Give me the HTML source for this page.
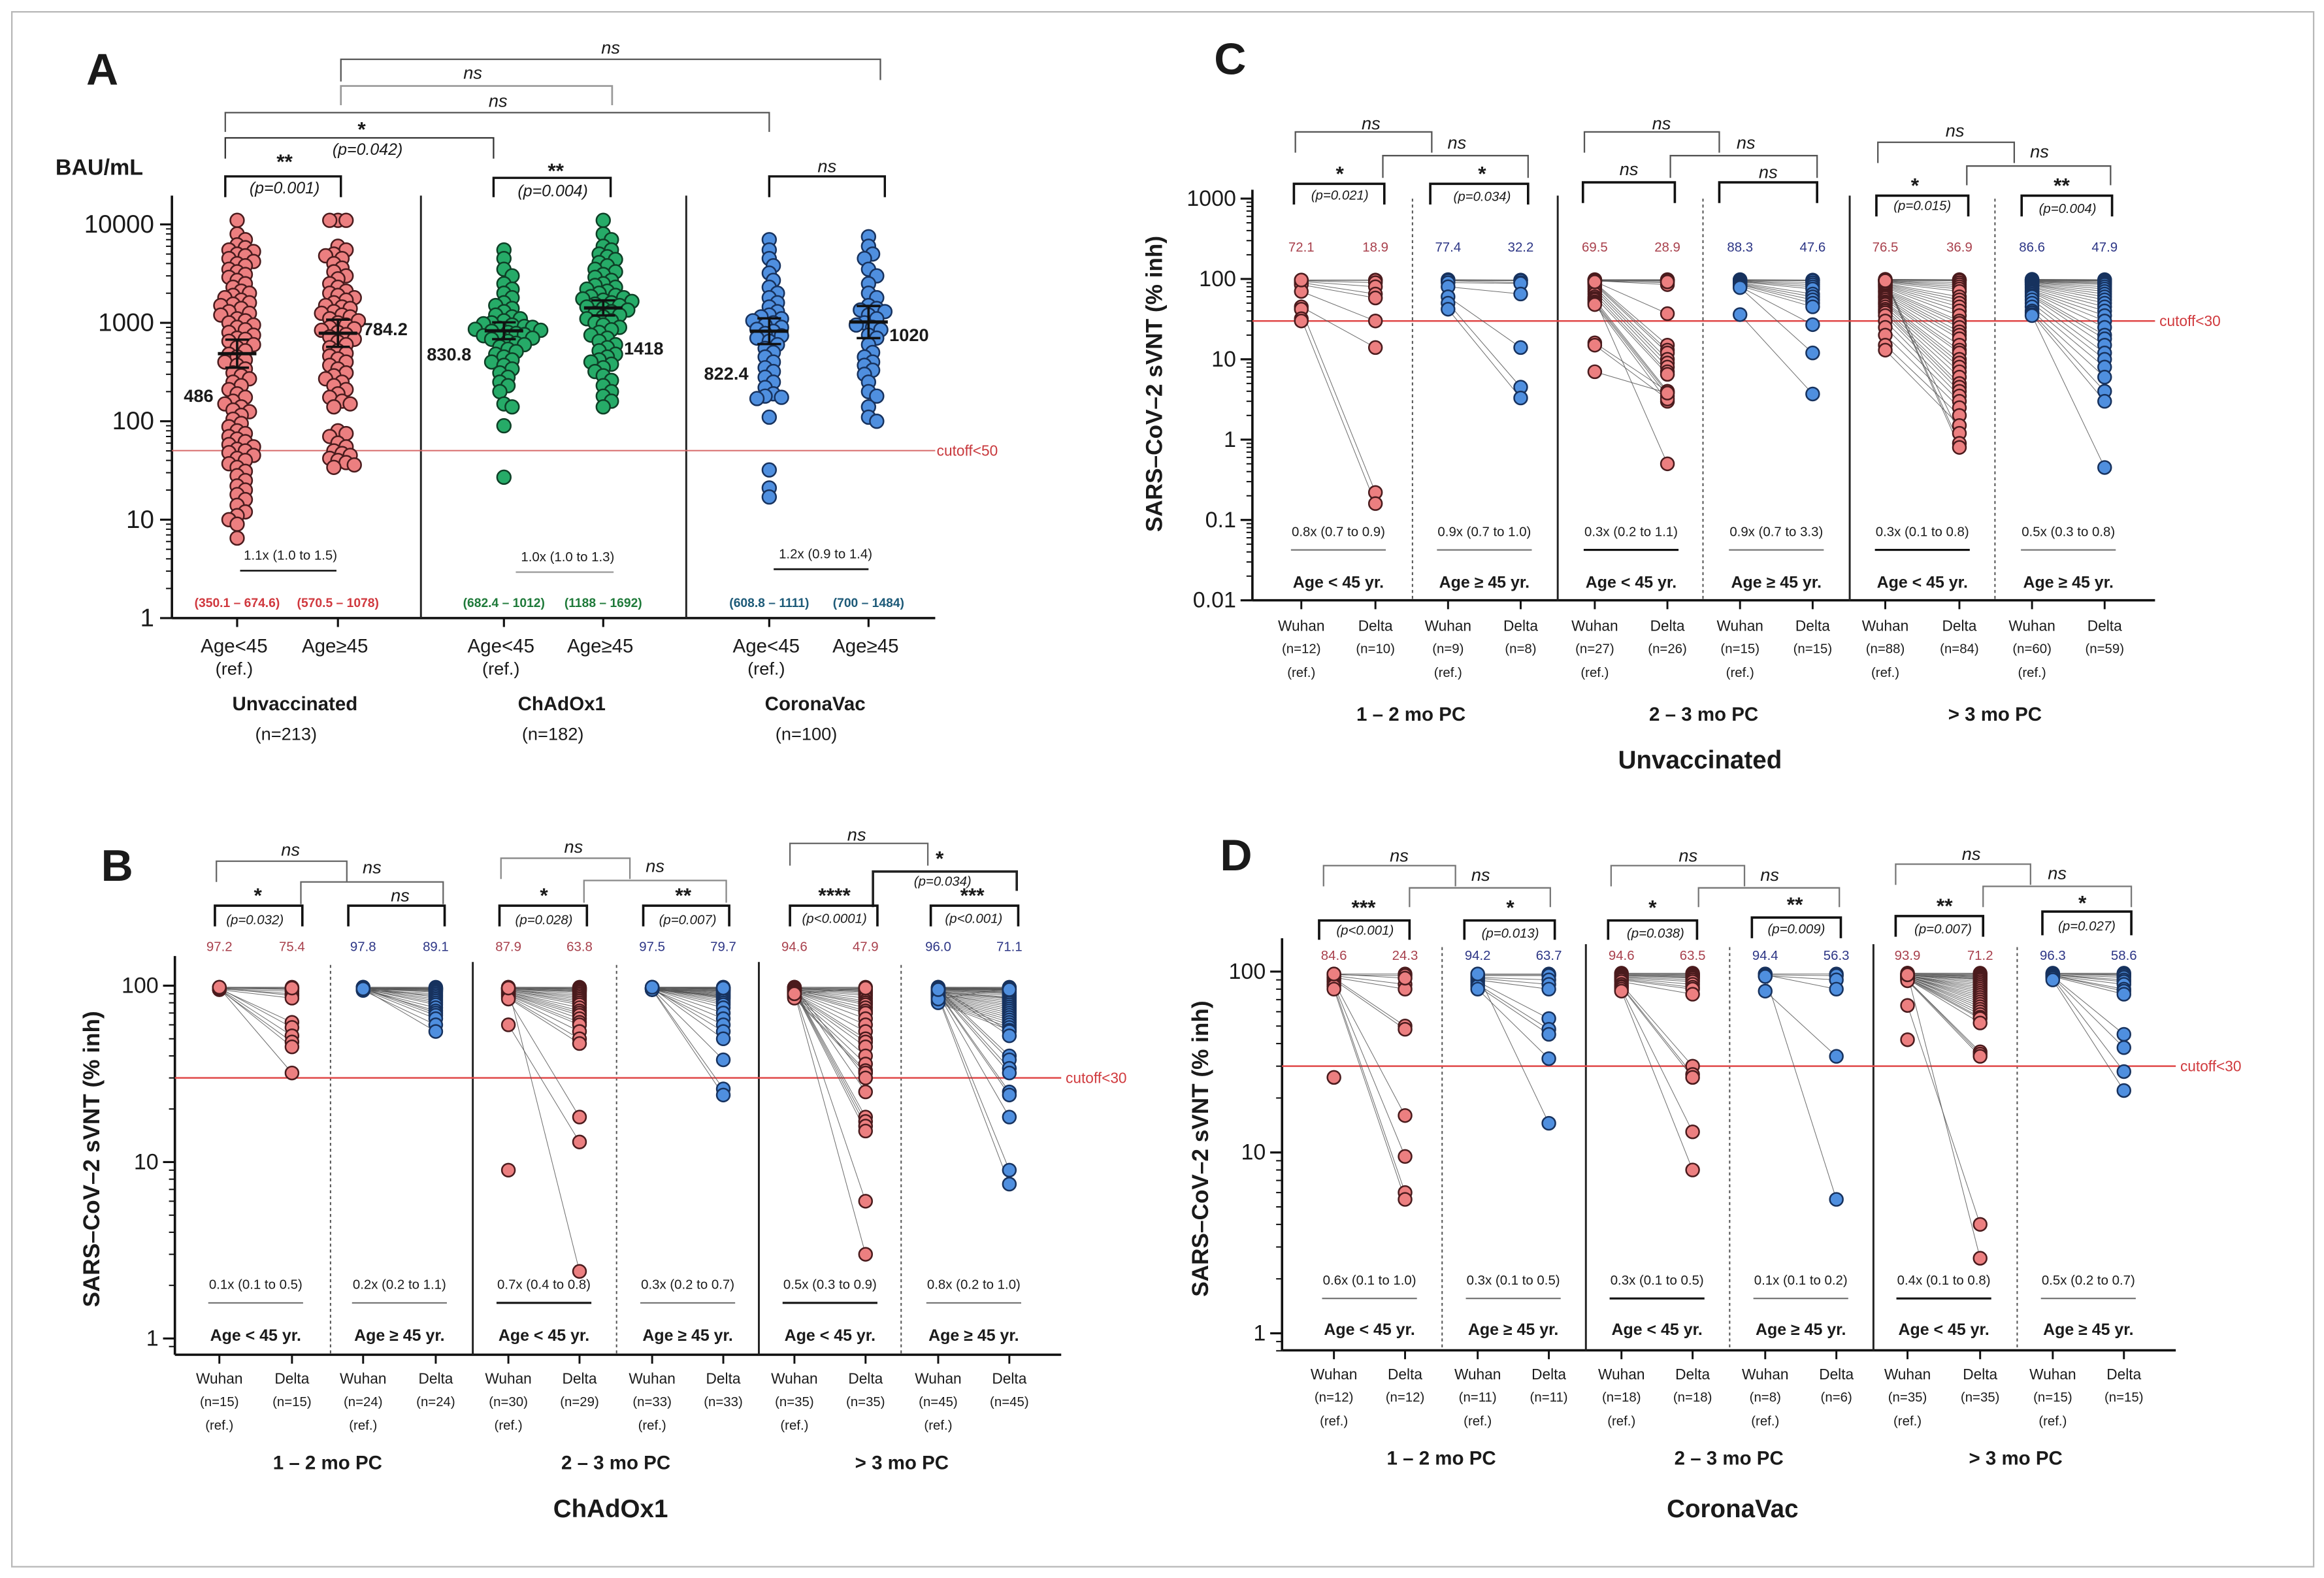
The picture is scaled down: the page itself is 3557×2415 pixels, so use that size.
<!DOCTYPE html>
<html><head><meta charset="utf-8"><style>body{margin:0;background:#fff}svg{display:block}</style></head><body>
<svg id="fig" xmlns="http://www.w3.org/2000/svg" width="3557" height="2415" viewBox="0 0 1568 1064.6" preserveAspectRatio="none"></svg>
<script>
// ===== Panel A data (BAU/mL) =====
const A_categories = ['Age<45','Age≥45','Age<45','Age≥45','Age<45','Age≥45'];
const A_unvax_lt45 = [11000,8000,7000,6200,5800,5500,5300,5000,4800,4500,4200,4000,3800,3500,3300,3100,2900,2700,2500,2300,2100,2000,1900,1800,1700,1600,1550,1500,1400,1300,1250,1200,1100,1050,1000,950,900,850,800,750,700,680,650,600,560,520,480,450,420,400,370,340,310,290,270,250,230,210,190,175,160,150,140,130,125,115,105,95,88,80,75,70,66,62,58,55,52,50,48,45,42,40,37,34,31,28,25,22,20,18,16,14,12,11,10,9,6.5];
const A_unvax_ge45 = [11000,11000,11000,6000,5500,5000,4800,4500,4000,3600,3300,3000,2800,2500,2300,2100,2000,1900,1800,1700,1600,1500,1450,1400,1300,1250,1200,1150,1100,1050,1000,950,900,870,840,800,760,720,680,640,600,560,520,490,460,430,400,370,340,310,290,270,250,230,210,190,175,160,150,140,80,75,70,60,55,50,47,45,42,40,38,36,34];
const A_chad_lt45 = [5500,4500,3500,3000,2500,2200,2000,1800,1600,1500,1400,1300,1200,1150,1100,1050,1000,980,950,920,900,880,860,840,820,800,780,760,740,720,700,680,650,620,600,570,540,510,480,450,420,400,370,340,310,280,250,230,200,150,140,90,27];
const A_chad_ge45 = [11000,8000,7000,6000,5500,5000,4700,4400,4100,3800,3500,3300,3100,2900,2700,2500,2400,2300,2200,2100,2000,1900,1850,1800,1750,1700,1650,1600,1550,1500,1450,1400,1350,1300,1250,1200,1150,1100,1050,1000,950,900,850,800,750,700,650,600,560,520,480,450,420,400,380,350,320,290,260,230,200,180,160,140];
const A_cv_lt45 = [7000,5500,4500,3800,3200,2700,2300,2000,1800,1600,1450,1300,1200,1150,1100,1050,1000,950,900,860,820,780,740,700,650,600,550,500,450,400,350,320,280,250,220,190,180,175,170,110,32,21,17];
const A_cv_ge45 = [7500,6000,5000,4500,3500,3000,2500,2000,1800,1500,1400,1350,1300,1200,1100,1000,950,900,850,750,700,600,500,450,400,370,330,300,250,200,180,140,110,100];
const A_means = [486,784.2,830.8,1418,822.4,1020];
const A_ci_lo = [350.1,570.5,682.4,1188,608.8,700];
const A_ci_hi = [674.6,1078,1012,1692,1111,1484];
const A_ticks = [10000,1000,100,10,1];
const A_tickLabels = ['10000','1000','100','10','1'];

// ===== Panel C data (Unvaccinated, % inh) =====
const C1_w=[97,96,95,93,90,85,70,45,42,32,30,97];
const C1_d=[97,96,90,80,65,58,30,14,0.22,0.16,null,null];
const C2_w=[98,97,96,95,90,80,60,50,42];
const C2_d=[97,96,95,90,88,65,14,4.5,3.3];
const C3_w=[98,97,97,96,95,95,93,90,88,85,80,75,70,65,60,57,55,52,50,48,16,15,7,97,96,94,92];
const C3_d=[98,97,96,95,90,85,37,15,13,12,10,9,8,7,6.5,0.5,4,3.8,3.5,3,4,3.2,3.8,97,96,92,null];
const C4_w=[98,97,96,95,94,93,92,90,88,86,85,82,80,78,36];
const C4_d=[97,96,95,90,85,80,75,65,60,55,50,45,27,12,3.7];
const C5_w=[99,98,97,96,95,94,93,92,90,88,86,84,82,80,78,75,72,70,68,65,62,60,58,55,52,50,48,45,42,40,38,35,30,25,20,15,13,97,96,95];
const C5_d=[98,97,96,95,90,85,80,75,70,60,55,50,45,40,35,30,28,25,22,20,18,15,13,12,10,9,8,7,6,5,4.5,4,3.5,3,2.5,2,1.5,1.2,0.9,0.8];
const C6_w=[99,98,97,96,95,94,93,92,91,90,88,86,85,83,80,78,75,72,70,68,65,62,60,55,50,45,40,38,36,35];
const C6_d=[98,97,96,95,93,90,88,85,80,75,70,65,60,55,50,45,40,35,30,25,20,18,15,12,10,8,6,4,3,0.45];
const C_means=['72.1','18.9','77.4','32.2','69.5','28.9','88.3','47.6','76.5','36.9','86.6','47.9'];
const C_n=['(n=12)','(n=10)','(n=9)','(n=8)','(n=27)','(n=26)','(n=15)','(n=15)','(n=88)','(n=84)','(n=60)','(n=59)'];
const C_fold=['0.8x (0.7 to 0.9)','0.9x (0.7 to 1.0)','0.3x (0.2 to 1.1)','0.9x (0.7 to 3.3)','0.3x (0.1  to 0.8)','0.5x (0.3  to 0.8)'];
const C_ticks=[1000,100,10,1,0.1,0.01];
const C_tickLabels=['1000','100','10','1','0.1','0.01'];

// ===== Panel B data (ChAdOx1) =====
const B1_w=[98,97,97,97,96,96,97,95,96,97,96,95,96,97,98];
const B1_d=[98,97,96,95,93,90,88,85,62,58,52,48,45,32,97];
const B2_w=[98,98,97,97,97,97,96,96,96,96,95,95,98,97,97,96,96,95,95,97,96,95,94,96];
const B2_d=[98,97,97,96,96,95,95,94,93,92,90,88,86,84,82,80,78,75,72,70,68,65,60,55];
const B3_w=[98,98,97,97,97,97,96,96,96,96,95,95,95,94,94,93,92,92,91,90,90,89,88,87,86,85,84,60,9,97];
const B3_d=[98,97,97,96,95,95,94,93,92,90,88,86,84,82,80,78,75,72,70,68,65,62,60,55,50,47,18,13,null,2.4];
const B4_w=[98,98,98,97,97,97,97,97,96,96,96,96,96,96,95,95,95,98,98,97,97,97,96,96,96,95,95,97,97,96,96,95,98];
const B4_d=[98,98,97,97,96,96,95,95,94,94,93,92,91,90,89,88,87,86,85,84,82,80,78,75,70,65,60,55,50,38,26,24,97];
const B5_w=[98,98,97,97,97,96,96,96,95,95,95,94,94,93,93,92,92,91,90,90,89,88,88,87,86,85,98,97,96,95,94,93,92,91,90];
const B5_d=[98,97,96,95,94,93,92,90,88,85,82,80,78,75,72,70,65,60,55,50,48,45,40,36,33,32,30,25,18,17,16,15,6,3,97];
const B6_w=[98,98,97,97,97,96,96,96,95,95,95,94,94,93,93,92,92,91,90,90,89,88,87,86,85,84,83,82,81,80,98,97,96,95,94,93,92,91,90,88,86,84,97,96,95];
const B6_d=[98,97,97,96,96,95,95,94,93,92,91,90,88,86,85,84,82,80,78,76,74,72,70,68,66,64,62,60,58,56,55,52,40,38,34,32,25,24,18,9,7.5,97,96,95,95];
const B_means=['97.2','75.4','97.8','89.1','87.9','63.8','97.5','79.7','94.6','47.9','96.0','71.1'];
const B_n=['(n=15)','(n=15)','(n=24)','(n=24)','(n=30)','(n=29)','(n=33)','(n=33)','(n=35)','(n=35)','(n=45)','(n=45)'];
const B_fold=['0.1x (0.1 to 0.5)','0.2x (0.2 to 1.1)','0.7x (0.4  to 0.8)','0.3x (0.2 to 0.7)','0.5x (0.3 to 0.9)','0.8x (0.2 to 1.0)'];
const BD_ticks=[100,10,1];
const BD_tickLabels=['100','10','1'];

// ===== Panel D data (CoronaVac) =====
const D1_w=[97,96,95,93,92,90,88,85,83,80,26,97];
const D1_d=[97,95,85,80,50,48,16,9.5,6,5.5,null,92];
const D2_w=[97,96,95,93,92,90,88,85,83,80,97];
const D2_d=[97,96,95,90,85,80,55,48,45,33,14.5];
const D3_w=[98,97,97,96,96,95,95,94,93,92,91,90,88,85,83,82,80,78];
const D3_d=[98,97,96,95,94,93,92,90,88,85,82,80,75,30,27,26,13,8];
const D4_w=[97,96,95,97,96,95,94,78];
const D4_d=[97,95,90,null,80,5.5,null,34];
const D5_w=[98,98,97,97,97,97,96,96,96,96,96,95,95,95,95,95,94,94,94,94,93,93,93,92,92,92,91,91,90,90,89,65,42,97,96];
const D5_d=[98,97,96,95,94,93,92,91,90,88,86,84,82,80,78,76,74,72,70,68,66,64,62,60,58,56,55,52,36,35,34,4,null,2.6,null];
const D6_w=[98,97,97,97,96,96,96,95,95,95,94,94,93,92,90];
const D6_d=[98,97,96,95,93,90,88,85,80,78,75,45,38,28,22];
const D_means=['84.6','24.3','94.2','63.7','94.6','63.5','94.4','56.3','93.9','71.2','96.3','58.6'];
const D_n=['(n=12)','(n=12)','(n=11)','(n=11)','(n=18)','(n=18)','(n=8)','(n=6)','(n=35)','(n=35)','(n=15)','(n=15)'];
const D_fold=['0.6x (0.1 to 1.0)','0.3x (0.1 to 0.5)','0.3x (0.1 to 0.5)','0.1x (0.1 to 0.2)','0.4x (0.1 to 0.8)','0.5x (0.2  to 0.7)'];

const ageLabels=['Age < 45 yr.','Age ≥ 45 yr.','Age < 45 yr.','Age ≥ 45 yr.','Age < 45 yr.','Age ≥ 45 yr.'];
const periodLabels=['1 – 2 mo PC','2 – 3 mo PC','> 3 mo PC'];

// ===== helpers =====
const svg=document.getElementById('fig');
const NS='http://www.w3.org/2000/svg';
const FN='"Liberation Sans", Arial, sans-serif';
const FNN='"Liberation Sans Narrow", "Liberation Sans", Arial, sans-serif';
const RED={f:'#ec7f80',s:'#4a1b1d'}, BLUE={f:'#4f8fdf',s:'#17325e'}, GREEN={f:'#26ab68',s:'#0e3f26'};
function mk(tag,parent,attrs){const e=document.createElementNS(NS,tag);for(const k in attrs)e.setAttribute(k,attrs[k]);parent.appendChild(e);return e;}
function grp(parent,name){const g=mk('g',parent,{});


return g;}
function ln(p,x1,y1,x2,y2,stroke,w,name,dash){const e=mk('line',p,{x1:x1,y1:y1,x2:x2,y2:y2,stroke:stroke,'stroke-width':w});if(dash)e.setAttribute('stroke-dasharray',dash);


return e;}
function txt(p,x,y,s,size,o,name){o=o||{};const e=mk('text',p,{x:x,y:y,'font-size':size,'text-anchor':o.a||'middle','dominant-baseline':'central','font-family':o.f||FN,fill:o.c||'#1a1a1a'});if(o.b)e.setAttribute('font-weight','bold');if(o.i)e.setAttribute('font-style','italic');if(o.r)e.setAttribute('transform','rotate('+o.r+' '+x+' '+y+')');e.textContent=s;


return e;}
function bracket(p,x1,x2,y,d1,d2,w,color,name){const e=mk('path',p,{d:'M'+x1+' '+(y+d1)+' V'+y+' H'+x2+' V'+(y+d2),fill:'none',stroke:color,'stroke-width':w});


return e;}
function dot(p,x,y,r,col,name){const e=mk('circle',p,{cx:x,cy:y,r:r,fill:col.f,stroke:col.s,'stroke-width':1.1});


return e;}
function logAxis(p,x,yTop,yBot,yOf,ticks,labels,size,lx,name){
  const g=grp(p,name);
  ln(g,x,yTop,x,yBot,'#111',1.6,'y-axis-line');
  const lo=Math.log10(Math.min(...ticks)),hi=Math.log10(Math.max(...ticks));
  for(let d=Math.floor(lo)-1;d<=Math.ceil(hi);d++){for(let m=1;m<10;m++){const v=m*Math.pow(10,d);const y=yOf(v);if(y<yTop-0.5||y>yBot+0.5)continue;const major=(m===1);
    ln(g,x-(major?8:4),y,x,y,'#111',major?1.4:0.9,major?'y-major-tick':'y-minor-tick');}}
  ticks.forEach((v,i)=>{txt(g,lx,yOf(v),labels[i],size,{a:'end'},'y-tick-label');});
  return g;}

// border
const border=mk('rect',svg,{x:8,y:8,width:1553,height:1049,fill:'none',stroke:'#b8b8b8','stroke-width':1});



// ===== PANEL A =====
(function(){
  const P=grp(svg,'panel-a');
  const y1=417, dec=66.4;
  const yOf=v=>y1-Math.log10(v)*dec;
  const xs=[160,228,340,407,519,586];
  txt(P,69,47,'A',30,{b:true},'panel-label-a');
  txt(P,67,113,'BAU/mL',15,{b:true},'y-axis-title');
  logAxis(P,116,132,417,yOf,A_ticks,A_tickLabels,17,104,'y-axis');
  ln(P,116,417,631,417,'#111',1.6,'x-axis-line');
  xs.forEach(x=>ln(P,x,417,x,423,'#111',1.4,'x-tick'));
  ln(P,284,132,284,417,'#222',1.3,'group-divider');
  ln(P,463,132,463,417,'#222',1.3,'group-divider');
  ln(P,116,304,631,304,'#d66a6a',0.9,'cutoff-line');
  txt(P,632,304,'cutoff<50',10,{a:'start',c:'#c8383c',f:FNN},'cutoff-label');
  const sets=[[A_unvax_lt45,RED],[A_unvax_ge45,RED],[A_chad_lt45,GREEN],[A_chad_ge45,GREEN],[A_cv_lt45,BLUE],[A_cv_ge45,BLUE]];
  sets.forEach((s,i)=>{
    const g=grp(P,'swarm-'+i);
    const r=4.6, placed=[];
    s[0].slice().sort((a,b)=>b-a).forEach(v=>{const y=yOf(v);for(let k=0;k<80;k++){const off=(k%2?1:-1)*Math.ceil(k/2)*r*0.6;const x=xs[i]+off;if(placed.every(q=>(q.x-x)*(q.x-x)+(q.y-y)*(q.y-y)>=(1.15*r)*(1.15*r))){placed.push({x:x,y:y});break;}}});
    placed.forEach(q=>dot(g,q.x,q.y,r,s[1],'data-point'));
    const ym=yOf(A_means[i]),ylo=yOf(A_ci_lo[i]),yhi=yOf(A_ci_hi[i]);
    ln(g,xs[i],yhi,xs[i],ylo,'#111',1.6,'ci-bar');
    ln(g,xs[i]-8,yhi,xs[i]+8,yhi,'#111',1.6,'ci-cap');
    ln(g,xs[i]-8,ylo,xs[i]+8,ylo,'#111',1.6,'ci-cap');
    ln(g,xs[i]-13,ym,xs[i]+13,ym,'#111',2.2,'geometric-mean');
  });
  const mlab=[[130,267,'end'],[245,222,'start'],[304,239,'end'],[421,235,'start'],[491,252,'end'],[600,226,'start']];
  mlab.forEach((m,i)=>txt(P,m[0]+(m[2]==='end'?14:0),m[1],String(A_means[i]),12,{b:true,a:m[2]==='end'?'end':'start'},'mean-label'));
  const ciC=['#d0383e','#d0383e','#1f7a3a','#1f7a3a','#1d5a78','#1d5a78'];
  xs.forEach((x,i)=>txt(P,x,407,'('+A_ci_lo[i]+' – '+A_ci_hi[i]+')',8.5,{c:ciC[i],f:FNN,b:true},'ci-label'));
  const folds=[[196,375,'1.1x (1.0 to 1.5)',162,227,'#222'],[383,376,'1.0x (1.0 to 1.3)',348,414,'#aaa'],[557,374,'1.2x (0.9 to 1.4)',522,586,'#111']];
  folds.forEach(f=>{txt(P,f[0],f[1],f[2],9,{f:FNN},'fold-change-label');ln(P,f[3],f[1]+10,f[4],f[1]+10,f[5],1.2,'fold-change-line');});
  xs.forEach((x,i)=>{txt(P,x-2,436,A_categories[i],13,{},'x-tick-label');if(i%2===0)txt(P,x-2,451,'(ref.)',12,{},'ref-label');});
  [[199,'Unvaccinated','(n=213)'],[379,'ChAdOx1','(n=182)'],[550,'CoronaVac','(n=100)']].forEach(g=>{txt(P,g[0],475,g[1],13,{b:true},'group-name');txt(P,g[0]-6,495,g[2],12,{},'group-n');});
  const bk=[[230,594,40,15,14,'#555',1],[230,413,58,13,13,'#999',1.2],[152,519,76,13,13,'#555',1],[152,333,93,14,14,'#333',1],[152,230,119,14,14,'#111',1.5],[333,412,120,13,13,'#111',1.5],[519,597,119,14,14,'#111',1.5]];
  bk.forEach(b=>bracket(P,b[0],b[1],b[2],b[3],b[4],b[6],b[5],'comparison-bracket'));
  txt(P,412,32,'ns',12,{i:true},'ns-label');txt(P,319,49,'ns',12,{i:true},'ns-label');txt(P,336,68,'ns',12,{i:true},'ns-label');
  txt(P,244,87,'*',14,{b:true},'significance-star');txt(P,248,101,'(p=0.042)',11,{i:true},'p-value');
  txt(P,192,109,'**',14,{b:true},'significance-star');txt(P,192,127,'(p=0.001)',11,{i:true},'p-value');
  txt(P,375,115,'**',14,{b:true},'significance-star');txt(P,373,129,'(p=0.004)',11,{i:true},'p-value');
  txt(P,558,112,'ns',12,{i:true},'ns-label');
})();

// ===== generic paired panel =====
function paired(cfg){
  const P=grp(svg,cfg.name);
  const yOf=v=>cfg.y100-(Math.log10(v)-2)*cfg.dec;
  txt(P,cfg.letter[0],cfg.letter[1],cfg.letter[2],30,{b:true},'panel-label');
  txt(P,cfg.title[0],cfg.title[1],'SARS–CoV–2 sVNT (% inh)',15.5,{b:true,r:-90},'y-axis-title');
  logAxis(P,cfg.ax,cfg.top,cfg.bot,yOf,cfg.ticks,cfg.tickLabels,15,cfg.ax-11,'y-axis');
  ln(P,cfg.ax,cfg.bot,cfg.right,cfg.bot,'#111',1.6,'x-axis-line');
  cfg.solid.forEach(x=>ln(P,x,cfg.top+4,x,cfg.bot,'#222',1.3,'period-divider'));
  cfg.dotted.forEach(x=>ln(P,x,cfg.top+6,x,cfg.bot,'#555',0.9,'age-divider','2,2'));
  const yc=yOf(30);
  ln(P,cfg.ax,yc,cfg.right,yc,'#e04848',1.1,'cutoff-line');
  txt(P,cfg.right+3,yc,'cutoff<30',10,{a:'start',c:'#d03a3e',f:FNN},'cutoff-label');
  const xs=cfg.xs;
  cfg.groups.forEach((gr,i)=>{
    const g=grp(P,'pair-group-'+i);
    const xw=xs[2*i],xd=xs[2*i+1],col=(i%2===0)?RED:BLUE;
    gr[0].forEach((w,j)=>{const d=gr[1][j];if(w!=null&&d!=null){const c=ln(g,xw,yOf(w),xd,yOf(d),'#555',0.45,'pair-connector');c.setAttribute('stroke-opacity','0.85');}});
    gr[0].forEach(w=>{if(w!=null)dot(g,xw,yOf(w),4.4,col,'wuhan-point');});
    gr[1].forEach(d=>{if(d!=null)dot(g,xd,yOf(d),4.4,col,'delta-point');});
    const mc=(i%2===0)?'#a8404c':'#2c3585';
    txt(P,xw,cfg.meanY,cfg.means[2*i],9,{c:mc,f:FNN},'mean-label');
    txt(P,xd,cfg.meanY,cfg.means[2*i+1],9,{c:mc,f:FNN},'mean-label');
    const cx=(xw+xd)/2;
    txt(P,cx,cfg.foldY,cfg.fold[i],9,{f:FNN},'fold-change-label');
    ln(P,cx-32,cfg.foldY+12,cx+32,cfg.foldY+12,(i%2===0&&i>0)?'#111':'#777',(i%2===0&&i>0)?1.4:1,'fold-change-line');
    txt(P,cx,cfg.ageY,ageLabels[i],11,{b:true},'age-label');
  });
  xs.forEach((x,i)=>{
    ln(P,x,cfg.bot,x,cfg.bot+6,'#111',1.3,'x-tick');
    txt(P,x,cfg.lblY,i%2===0?'Wuhan':'Delta',10,{f:FNN},'x-tick-label');
    txt(P,x,cfg.lblY+16,cfg.n[i],9,{f:FNN},'n-label');
    if(i%2===0)txt(P,x,cfg.lblY+32,'(ref.)',9,{f:FNN},'ref-label');
  });
  periodLabels.forEach((s,k)=>txt(P,(xs[4*k]+xs[4*k+3])/2,cfg.perY,s,13,{b:true},'period-label'));
  txt(P,cfg.vacc[0],cfg.vacc[1],cfg.vacc[2],17,{b:true},'vaccine-title');
  cfg.brackets.forEach(b=>bracket(P,b[0],b[1],b[2],b[3],b[4],b[5]||1,b[6]||'#444','comparison-bracket'));
  cfg.notes.forEach(n=>{const isP=n[2].charAt(0)==='(';const isNs=n[2]==='ns';txt(P,n[0],n[1],n[2],isP?9:(isNs?12:14),{i:isP||isNs,b:!isP&&!isNs,f:isP?FNN:FN},isP?'p-value':(isNs?'ns-label':'significance-star'));});
}

// Panel C
paired({name:'panel-c',letter:[830,40,'C'],title:[779,259],y100:188.2,dec:54.2,ax:845,top:128,bot:405,right:1454,
  ticks:C_ticks,tickLabels:C_tickLabels,
  xs:[878,928,977,1026,1076,1125,1174,1223,1272,1322,1371,1420],solid:[1051,1248],dotted:[953,1149,1346],
  groups:[[C1_w,C1_d],[C2_w,C2_d],[C3_w,C3_d],[C4_w,C4_d],[C5_w,C5_d],[C6_w,C6_d]],
  means:C_means,meanY:167,fold:C_fold,foldY:359,ageY:393,lblY:422,n:C_n,perY:482,vacc:[1147,513,'Unvaccinated'],
  brackets:[[874,966,89,14,14,1,'#555'],[933,1031,105,15,15,1,'#555'],[873,934,124,14,14,1.6,'#111'],[965,1031,124,14,14,1.6,'#111'],
    [1069,1160,89,14,14,1,'#555'],[1127,1226,105,15,15,1,'#555'],[1068,1130,123,14,14,1.6,'#111'],[1160,1226,123,14,14,1.6,'#111'],
    [1267,1359,96,14,14,1,'#555'],[1327,1424,112,13,13,1,'#555'],[1266,1328,132,14,14,1.6,'#111'],[1364,1425,132,14,14,1.6,'#111']],
  notes:[[925,83,'ns'],[983,96,'ns'],[904,117,'*'],[904,132,'(p=0.021)'],[1000,117,'*'],[1000,133,'(p=0.034)'],
    [1121,83,'ns'],[1178,96,'ns'],[1099,114,'ns'],[1193,116,'ns'],
    [1319,88,'ns'],[1376,102,'ns'],[1292,125,'*'],[1297,139,'(p=0.015)'],[1391,125,'**'],[1395,141,'(p=0.004)']]});

// Panel B
paired({name:'panel-b',letter:[79,584,'B'],title:[62,782],y100:665,dec:119,ax:118,top:645,bot:914,right:716,
  ticks:BD_ticks,tickLabels:BD_tickLabels,
  xs:[148,197,245,294,343,391,440,488,536,584,633,681],solid:[319,512],dotted:[223,416,608],
  groups:[[B1_w,B1_d],[B2_w,B2_d],[B3_w,B3_d],[B4_w,B4_d],[B5_w,B5_d],[B6_w,B6_d]],
  means:B_means,meanY:639,fold:B_fold,foldY:867,ageY:901,lblY:930,n:B_n,perY:987,vacc:[412,1018,'ChAdOx1'],
  brackets:[[146,234,581,14,14,1,'#666'],[203,299,595,15,15,1,'#666'],[145,204,611,14,14,1.6,'#111'],[235,300,611,14,14,1.6,'#111'],
    [338,425,579,14,14,1,'#888'],[394,490,594,15,15,1,'#888'],[337,396,611,14,14,1.6,'#111'],[434,492,611,14,14,1.6,'#111'],
    [533,626,569,15,15,1,'#666'],[589,686,588,24,13,1.6,'#222'],[533,592,611,14,14,1.6,'#111'],[628,687,611,14,14,1.6,'#111']],
  notes:[[196,573,'ns'],[251,585,'ns'],[174,604,'*'],[172,621,'(p=0.032)'],[270,604,'ns'],
    [387,571,'ns'],[442,584,'ns'],[367,604,'*'],[367,621,'(p=0.028)'],[461,604,'**'],[464,621,'(p=0.007)'],
    [578,563,'ns'],[634,579,'*'],[636,595,'(p=0.034)'],[563,604,'****'],[563,620,'(p<0.0001)'],[656,604,'***'],[657,620,'(p<0.001)']]});

// Panel D
paired({name:'panel-d',letter:[834,577,'D'],title:[810,775],y100:655.5,dec:122,ax:865,top:633,bot:911,right:1468,
  ticks:BD_ticks,tickLabels:BD_tickLabels,
  xs:[900,948,997,1045,1094,1142,1191,1239,1287,1336,1385,1433],solid:[1070,1264],dotted:[973,1167,1361],
  groups:[[D1_w,D1_d],[D2_w,D2_d],[D3_w,D3_d],[D4_w,D4_d],[D5_w,D5_d],[D6_w,D6_d]],
  means:D_means,meanY:645,fold:D_fold,foldY:864,ageY:897,lblY:927,n:D_n,perY:984,vacc:[1169,1018,'CoronaVac'],
  brackets:[[893,982,584,14,14,1,'#777'],[951,1046,599,13,13,1,'#777'],[890,951,621,13,13,1.6,'#111'],[988,1049,621,13,13,1.6,'#111'],
    [1087,1177,584,14,14,1,'#777'],[1146,1241,599,13,13,1,'#777'],[1085,1145,621,13,13,1.6,'#111'],[1182,1242,619,14,14,1.6,'#111'],
    [1279,1370,583,14,14,1,'#777'],[1338,1438,598,14,14,1,'#777'],[1279,1338,618,14,14,1.6,'#111'],[1378,1438,615,16,16,1.6,'#111']],
  notes:[[944,577,'ns'],[999,590,'ns'],[920,612,'***'],[921,628,'(p<0.001)'],[1019,612,'*'],[1019,630,'(p=0.013)'],
    [1139,577,'ns'],[1194,590,'ns'],[1115,612,'*'],[1117,630,'(p=0.038)'],[1211,610,'**'],[1212,627,'(p=0.009)'],
    [1330,576,'ns'],[1388,589,'ns'],[1312,611,'**'],[1311,627,'(p=0.007)'],[1405,609,'*'],[1408,625,'(p=0.027)']]});
</script>
</body></html>
